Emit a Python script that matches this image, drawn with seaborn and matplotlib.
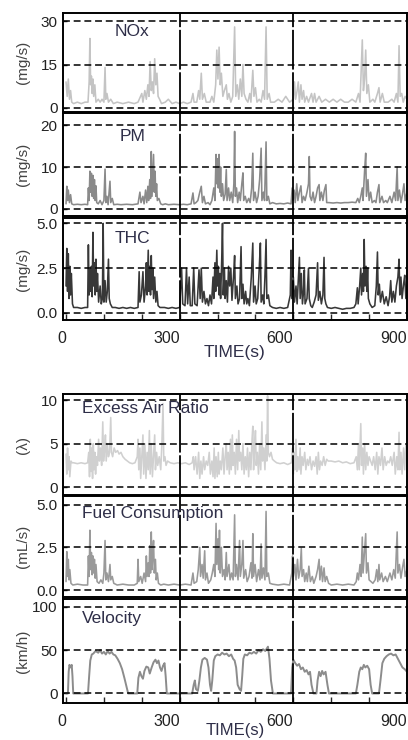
import numpy as np
import pandas as pd
import matplotlib
matplotlib.use("Agg")
import matplotlib.pyplot as plt
from matplotlib.ticker import MultipleLocator
import seaborn as sns

# ---------------- data ----------------
nox_t = [0, 3, 6, 9, 12, 15, 20, 30, 40, 50, 58, 61, 63, 65, 67, 69, 71, 73, 76, 79, 85, 90, 95, 100, 103, 105, 108, 112, 118, 125, 135, 150, 165, 180, 190, 200, 203, 208, 212, 216, 219, 222, 225, 228, 231, 234, 237, 240, 243, 247, 252, 262, 270, 280, 290, 300,
         310, 320, 330, 335, 338, 345, 350, 353, 357, 360, 365, 370, 380, 385, 390, 395, 398, 401, 404, 407, 410, 414, 418, 423, 426, 430, 435, 440, 445, 448, 452, 456, 460, 464, 467, 470, 475, 480, 485, 488, 493, 496, 500, 504, 510, 515, 520, 524, 528, 531, 536, 540, 550, 560, 570, 580, 590, 600,
         603, 606, 610, 613, 616, 620, 623, 627, 630, 635, 640, 648, 652, 656, 660, 668, 675, 685, 695, 705, 715, 725, 735, 745, 755, 765, 772, 776, 782, 785, 788, 791, 794, 798, 802, 810, 815, 822, 826, 829, 835, 840, 850, 860, 866, 872, 876, 879, 882, 886, 890, 895, 900]
nox_v = [9, 4, 10, 3, 6, 2, 1.5, 2, 1.5, 2, 2, 9, 24, 8, 11, 5, 10, 4, 8, 2, 3, 2, 3, 2, 14, 3, 5, 2, 3, 1.5, 2, 1.5, 2, 1.5, 2, 5, 2, 6, 3, 8, 4, 16, 6, 9, 5, 17, 8, 12, 4, 3, 1.5, 2, 3, 1.5, 2, 1.5,
         2, 1.5, 2, 5, 2, 2, 6, 3, 12, 3, 5, 2, 2, 4, 2, 8, 20, 10, 21, 8, 12, 4, 6, 8, 3, 5, 2, 4, 28, 4, 8, 3, 10, 4, 15, 5, 3, 2, 5, 2, 13, 4, 7, 2, 3, 2, 6, 3, 28, 3, 5, 2, 2, 3, 2, 4, 2, 3,
         9, 3, 6, 9, 2, 8, 3, 6, 2, 4, 2, 5, 2, 5, 2, 4, 2, 3, 2, 3, 2, 3, 2, 2, 3, 2, 5, 2, 23.5, 6, 10, 20, 5, 8, 2, 3, 2, 5, 7, 2, 5, 2, 2, 3, 2, 5, 2, 21.5, 4, 5, 2, 4, 3]

pm_t = [0, 2, 4, 6, 9, 12, 15, 20, 30, 40, 50, 57, 59, 61, 63, 65, 67, 69, 71, 73, 75, 77, 79, 81, 85, 90, 95, 100, 103, 105, 108, 111, 116, 118, 122, 126, 135, 145, 160, 175, 190, 195, 198, 203, 206, 210, 213, 216, 218, 221, 223, 225, 227, 229, 231, 233, 235, 237, 239, 241, 245, 250, 255, 262, 270, 285, 300,
        310, 320, 330, 335, 338, 343, 348, 353, 357, 360, 364, 368, 375, 380, 385, 390, 393, 396, 398, 400, 402, 404, 406, 408, 410, 413, 416, 420, 423, 425, 429, 432, 436, 440, 443, 445, 447, 450, 453, 457, 460, 464, 467, 469, 473, 477, 482, 486, 490, 493, 495, 499, 503, 507, 511, 515, 517, 521, 524, 528, 530, 534, 538, 545, 555, 565, 575, 585, 594,
        597, 599, 602, 605, 609, 612, 616, 620, 623, 627, 631, 636, 640, 642, 644, 648, 652, 656, 660, 664, 668, 670, 674, 678, 682, 686, 688, 694, 705, 715, 725, 735, 745, 755, 765, 770, 774, 778, 782, 784, 788, 791, 793, 797, 800, 804, 808, 814, 818, 822, 826, 828, 834, 838, 844, 848, 855, 860, 866, 870, 874, 876, 880, 884, 888, 892, 895, 900]
pm_v = [1.2, 5.4, 2.0, 4.5, 1.5, 3.4, 1.2, 1.0, 1.1, 1.0, 1.1, 1.0, 5.0, 2.0, 9.0, 4.0, 8.5, 3.0, 8.0, 2.5, 7.0, 2.0, 5.5, 1.5, 1.2, 2.0, 1.0, 2.0, 9.5, 1.5, 3.0, 1.0, 6.6, 1.5, 2.5, 1.0, 1.1, 1.0, 1.1, 1.0, 1.2, 4.0, 1.5, 3.0, 1.2, 4.5, 1.5, 5.4, 2.0, 7.0, 2.5, 13.7, 3.0, 8.0, 13.0, 4.0, 9.0, 3.0, 6.0, 2.0, 2.5, 1.2, 1.0, 1.2, 1.0, 1.1, 1.0,
        1.1, 1.0, 1.2, 3.8, 1.2, 1.5, 2.0, 4.0, 5.4, 1.5, 3.0, 1.2, 1.5, 1.0, 2.0, 5.0, 2.0, 13.0, 6.0, 12.0, 5.0, 13.0, 4.0, 10.0, 3.0, 6.0, 2.0, 3.5, 9.4, 2.0, 5.0, 2.0, 4.0, 1.5, 6.0, 18.5, 3.0, 5.0, 1.5, 4.0, 2.0, 6.0, 8.6, 2.0, 3.0, 1.5, 2.5, 1.5, 5.0, 13.3, 2.0, 4.0, 1.5, 3.0, 7.0, 14.5, 2.0, 4.0, 2.0, 16.0, 2.0, 3.0, 1.2, 1.5, 1.2, 1.3, 1.2, 1.4, 1.2,
        5.0, 2.0, 4.5, 1.5, 6.0, 2.0, 4.0, 5.5, 1.5, 3.0, 2.0, 4.0, 6.0, 12.5, 3.0, 2.0, 4.0, 1.5, 3.0, 5.0, 5.8, 2.0, 4.0, 2.0, 4.5, 5.8, 1.5, 1.5, 1.4, 1.5, 1.4, 1.5, 1.5, 1.6, 1.5, 2.5, 1.5, 3.0, 5.0, 2.0, 9.0, 13.3, 3.0, 7.0, 2.0, 4.0, 1.5, 2.0, 1.5, 4.0, 5.8, 1.5, 3.0, 1.5, 2.0, 1.5, 3.0, 1.5, 4.0, 2.0, 10.0, 2.0, 4.5, 1.5, 3.5, 6.0, 2.0, 4.0]

thc_t = [0, 2, 4, 6, 8, 10, 12, 14, 17, 20, 30, 40, 50, 57, 59, 61, 63, 65, 67, 69, 71, 73, 75, 77, 79, 81, 83, 86, 90, 93, 96, 98, 100, 103, 106, 109, 112, 114, 117, 122, 130, 140, 150, 160, 170, 180, 190, 193, 195, 199, 203, 206, 210, 212, 214, 217, 219, 221, 223, 225, 227, 229, 231, 234, 237, 240, 243, 248, 260, 270, 280, 290, 300,
         305, 308, 314, 318, 321, 325, 328, 333, 337, 340, 346, 351, 354, 357, 360, 364, 368, 372, 376, 380, 384, 388, 390, 393, 395, 398, 400, 402, 404, 406, 408, 411, 413, 415, 418, 420, 423, 426, 429, 432, 435, 438, 442, 445, 447, 451, 454, 458, 462, 464, 467, 470, 474, 477, 480, 484, 489, 493, 495, 499, 502, 506, 510, 513, 515, 519, 522, 525, 528, 530, 534, 538, 545, 555, 565, 575, 585,
         592, 594, 596, 600, 603, 607, 610, 614, 616, 618, 621, 624, 627, 629, 631, 636, 640, 642, 646, 650, 655, 660, 664, 666, 670, 674, 678, 681, 683, 686, 690, 700, 710, 720, 730, 740, 750, 760, 765, 769, 771, 775, 778, 780, 783, 785, 787, 789, 792, 794, 796, 798, 802, 808, 815, 819, 822, 824, 827, 830, 835, 840, 845, 850, 854, 857, 860, 864, 868, 872, 876, 879, 881, 884, 887, 891, 894, 897, 900]
thc_v = [1.5, 3.6, 1.2, 3.3, 0.8, 2.6, 1.0, 2.2, 0.5, 0.3, 0.3, 0.25, 0.3, 0.3, 3.8, 1.0, 2.4, 1.2, 2.6, 0.9, 4.5, 1.5, 2.8, 1.0, 3.0, 1.2, 2.2, 0.6, 1.5, 0.5, 0.8, 5.0, 0.6, 1.8, 0.6, 1.2, 3.0, 0.8, 0.5, 0.3, 0.3, 0.25, 0.3, 0.25, 0.3, 0.25, 0.3, 2.3, 0.6, 1.0, 2.3, 0.6, 1.5, 2.8, 1.0, 3.5, 1.2, 2.6, 1.0, 3.2, 1.3, 2.5, 0.8, 2.0, 0.6, 1.2, 0.4, 0.3, 0.3, 0.25, 0.3, 0.25, 0.3,
         2.5, 0.5, 0.4, 2.5, 0.5, 2.0, 0.4, 0.4, 2.5, 0.5, 0.4, 2.4, 0.8, 2.5, 0.6, 1.2, 0.5, 0.8, 0.4, 1.0, 0.5, 2.0, 0.8, 2.8, 1.2, 3.5, 1.5, 2.6, 1.0, 2.2, 0.8, 3.0, 5.0, 1.0, 2.5, 0.8, 1.8, 0.6, 2.6, 1.5, 2.5, 0.7, 2.0, 3.2, 0.8, 1.5, 0.5, 0.8, 3.7, 0.8, 1.6, 0.5, 1.2, 0.5, 0.8, 0.4, 2.0, 3.9, 0.6, 1.5, 0.5, 0.8, 2.5, 3.9, 0.6, 1.0, 0.5, 2.0, 4.1, 0.8, 1.0, 0.4, 0.3, 0.25, 0.3, 0.25, 0.3,
         1.0, 3.5, 0.8, 2.0, 0.6, 1.5, 0.5, 2.2, 3.1, 0.8, 2.2, 0.5, 1.2, 2.4, 0.5, 0.8, 2.5, 0.8, 0.4, 0.3, 0.6, 1.0, 2.8, 0.7, 1.2, 0.5, 1.0, 3.1, 0.8, 0.5, 0.3, 0.25, 0.3, 0.25, 0.2, 0.25, 0.25, 0.3, 0.5, 1.4, 0.5, 1.5, 2.5, 1.0, 2.2, 1.2, 4.1, 1.5, 2.6, 1.2, 2.5, 0.8, 0.5, 0.3, 0.4, 1.5, 3.4, 1.0, 1.6, 0.6, 1.2, 0.5, 0.9, 0.4, 0.9, 1.8, 0.6, 1.2, 0.6, 1.5, 2.0, 3.0, 1.0, 2.0, 0.8, 1.6, 2.1, 0.8, 1.5]

ear_t = [0, 2, 4, 6, 8, 10, 13, 16, 20, 30, 40, 50, 57, 60, 62, 64, 66, 68, 70, 72, 74, 76, 78, 80, 83, 86, 88, 91, 94, 97, 99, 102, 104, 106, 109, 112, 115, 118, 120, 123, 127, 131, 136, 140, 145, 150, 156, 162, 168, 175, 182, 188, 190, 192, 195, 197, 200, 203, 205, 208, 211, 214, 217, 220, 222, 225, 228, 231, 234, 236, 239, 242, 246, 250, 253, 256, 258, 261, 264, 268, 275, 285, 295,
         305, 315, 325, 333, 336, 338, 342, 346, 350, 353, 356, 359, 363, 366, 370, 374, 378, 381, 385, 388, 391, 393, 396, 399, 402, 404, 407, 410, 414, 417, 420, 423, 425, 428, 431, 434, 436, 439, 441, 444, 447, 450, 453, 456, 458, 461, 464, 467, 470, 473, 476, 479, 482, 485, 488, 491, 493, 495, 498, 500, 502, 505, 508, 511, 514, 517, 519, 522, 525, 528, 530, 532, 534, 537, 541, 545, 550, 556, 565, 575, 585, 595,
         598, 600, 602, 604, 607, 609, 612, 615, 618, 620, 623, 626, 630, 633, 637, 640, 644, 648, 652, 656, 660, 663, 666, 669, 672, 676, 680, 684, 688, 692, 700, 710, 720, 730, 740, 750, 760, 766, 769, 772, 774, 778, 780, 783, 785, 788, 791, 794, 797, 800, 804, 808, 812, 816, 820, 823, 826, 830, 834, 837, 841, 845, 849, 853, 857, 861, 866, 869, 873, 876, 879, 881, 884, 887, 891, 894, 897, 900]
ear_v = [3.8, 1.5, 4.5, 2.0, 3.5, 1.2, 3.0, 2.8, 2.8, 2.7, 2.8, 2.7, 2.8, 4.0, 1.2, 5.5, 1.8, 4.5, 1.0, 5.0, 2.0, 4.0, 1.5, 3.5, 2.5, 5.5, 3.0, 4.5, 2.5, 7.5, 3.0, 4.5, 6.0, 3.0, 5.0, 3.5, 4.0, 8.0, 4.0, 3.5, 4.5, 4.0, 4.2, 3.8, 4.0, 3.5, 3.2, 3.0, 2.8, 2.7, 2.8, 3.5, 5.5, 2.0, 4.5, 1.0, 3.5, 6.0, 1.5, 5.0, 1.0, 4.0, 2.0, 6.5, 1.5, 5.0, 1.2, 3.5, 6.0, 2.0, 4.0, 2.5, 3.5, 2.0, 5.0, 9.6, 3.0, 3.5, 2.5, 3.0, 2.8, 2.7, 2.8,
         2.7, 2.8, 2.6, 2.8, 3.5, 2.0, 3.5, 1.5, 4.0, 1.0, 3.0, 1.5, 3.5, 2.0, 3.0, 2.5, 4.0, 1.5, 3.0, 1.2, 4.5, 1.0, 3.5, 1.2, 4.0, 1.5, 3.0, 2.0, 4.5, 1.5, 3.5, 5.0, 2.0, 4.0, 1.5, 5.5, 2.0, 6.0, 2.5, 4.0, 1.5, 5.5, 2.0, 6.5, 3.0, 4.0, 2.0, 5.0, 1.5, 3.5, 2.0, 4.5, 1.2, 4.0, 2.0, 5.5, 7.0, 2.0, 5.0, 6.5, 2.5, 4.0, 1.5, 5.0, 2.0, 7.5, 3.0, 4.5, 2.0, 6.0, 3.0, 10.5, 4.0, 3.5, 4.0, 3.2, 3.0, 2.8, 2.7, 2.8, 2.6, 2.8,
         4.5, 1.5, 4.0, 2.0, 5.5, 1.8, 3.5, 2.0, 4.5, 1.5, 3.5, 2.5, 4.0, 2.0, 3.2, 2.5, 3.5, 2.0, 3.0, 2.4, 3.5, 1.5, 4.0, 2.0, 3.0, 2.5, 3.5, 2.5, 3.2, 3.0, 3.0, 2.9, 3.0, 2.8, 2.9, 2.7, 2.8, 3.5, 2.0, 5.0, 2.0, 7.3, 2.5, 4.5, 1.5, 5.0, 2.0, 4.0, 2.5, 3.5, 3.0, 2.5, 3.5, 2.0, 4.0, 1.5, 3.5, 2.5, 4.5, 2.0, 3.5, 2.5, 3.0, 2.8, 3.5, 2.5, 4.0, 1.5, 3.5, 2.0, 6.3, 2.0, 4.0, 1.5, 4.5, 2.0, 5.0, 3.0]

fuel_t = [0, 2, 4, 6, 8, 10, 13, 18, 30, 45, 57, 59, 61, 63, 65, 67, 69, 71, 73, 75, 77, 79, 82, 87, 92, 97, 100, 103, 105, 108, 112, 116, 118, 122, 126, 135, 150, 165, 180, 188, 190, 192, 197, 201, 206, 210, 212, 214, 217, 219, 221, 223, 225, 227, 229, 231, 233, 236, 238, 241, 244, 250, 258, 270, 285, 300,
          315, 330, 335, 338, 345, 349, 353, 355, 359, 362, 366, 368, 372, 376, 382, 386, 390, 393, 396, 398, 401, 403, 405, 407, 410, 413, 417, 420, 423, 425, 430, 433, 437, 441, 445, 447, 450, 454, 458, 460, 464, 467, 469, 474, 478, 483, 488, 491, 493, 495, 499, 503, 508, 512, 515, 517, 521, 525, 528, 530, 534, 538, 545, 560, 575, 590,
          596, 598, 600, 604, 607, 611, 614, 618, 621, 623, 627, 630, 634, 637, 641, 645, 650, 654, 660, 664, 668, 670, 674, 677, 681, 684, 688, 693, 700, 715, 730, 745, 760, 766, 769, 772, 776, 779, 782, 784, 787, 791, 793, 797, 800, 805, 810, 816, 820, 823, 826, 828, 833, 837, 843, 848, 855, 860, 865, 869, 874, 876, 880, 884, 888, 892, 895, 900]
fuel_v = [0.5, 2.25, 0.8, 1.8, 0.6, 1.2, 0.4, 0.3, 0.35, 0.3, 0.3, 2.0, 0.8, 3.5, 1.2, 2.2, 0.9, 2.0, 1.0, 1.8, 0.7, 1.5, 0.5, 0.4, 0.6, 0.4, 1.0, 2.9, 0.6, 1.0, 0.5, 1.5, 0.6, 0.8, 0.4, 0.3, 0.35, 0.3, 0.3, 0.4, 1.8, 0.5, 0.8, 0.4, 1.0, 0.5, 2.0, 0.8, 1.6, 0.8, 2.6, 1.0, 3.4, 1.2, 2.2, 2.9, 1.0, 1.8, 0.6, 1.0, 0.4, 0.3, 0.35, 0.3, 0.35, 0.3,
          0.35, 0.3, 1.0, 0.4, 0.5, 1.2, 2.5, 0.8, 1.5, 0.7, 2.3, 0.6, 1.0, 0.4, 0.6, 1.0, 1.5, 0.8, 3.9, 1.5, 3.0, 1.2, 3.5, 1.0, 2.5, 0.8, 1.2, 0.6, 2.2, 0.8, 1.5, 0.6, 1.0, 0.6, 4.4, 0.8, 1.5, 0.6, 2.9, 0.8, 1.5, 2.9, 0.7, 1.2, 0.5, 0.8, 1.6, 0.7, 3.3, 0.8, 1.5, 0.5, 1.2, 0.6, 2.7, 0.7, 1.3, 0.6, 4.6, 0.8, 1.0, 0.4, 0.35, 0.3, 0.35, 0.3,
          1.0, 2.0, 0.8, 1.5, 0.6, 1.8, 0.7, 1.2, 2.45, 0.8, 1.2, 0.5, 1.0, 0.5, 1.4, 0.5, 0.8, 0.4, 0.8, 1.2, 1.8, 0.6, 1.4, 0.5, 1.3, 0.5, 0.8, 0.4, 0.3, 0.35, 0.3, 0.35, 0.3, 0.5, 1.0, 0.6, 1.5, 0.8, 3.1, 1.0, 2.0, 3.3, 1.0, 1.6, 0.6, 0.5, 0.4, 0.6, 1.2, 0.5, 1.5, 0.6, 1.0, 0.5, 0.8, 0.5, 1.0, 0.6, 1.2, 0.7, 3.4, 1.0, 1.5, 0.7, 1.3, 1.8, 0.8, 1.2]

vel_t = [0, 5, 7, 9, 12, 15, 17, 19, 58, 61, 64, 68, 72, 78, 85, 90, 95, 100, 105, 110, 115, 120, 125, 130, 136, 142, 148, 154, 160, 164, 188, 191, 195, 199, 203, 207, 212, 217, 221, 226, 231, 236, 240, 244, 248, 252, 256, 260, 263, 266,
         333, 337, 340, 343, 348, 352, 356, 360, 366, 372, 376, 380, 383, 386, 390, 394, 400, 406, 412, 418, 424, 430, 436, 441, 445, 449, 453, 458, 462, 465, 468, 472, 478, 484, 490, 496, 502, 508, 514, 520, 526, 533, 537, 541, 546,
         594, 597, 600, 605, 610, 615, 620, 625, 630, 635, 640, 644, 648, 653, 661, 664, 668, 672, 676, 680, 685, 690, 694, 765, 769, 774, 778, 782, 786, 790, 795, 800, 804, 808, 826, 830, 835, 840, 846, 852, 858, 864, 870, 876, 882, 888, 894, 900]
vel_v = [0, 0, 25, 33, 30, 33, 20, 0, 0, 20, 38, 45, 46, 49, 47, 50, 46, 48, 45, 49, 46, 48, 45, 44, 40, 35, 28, 18, 7, 0, 0, 18, 25, 20, 17, 26, 31, 30, 23, 30, 36, 39, 35, 38, 30, 26, 32, 35, 20, 0,
         0, 10, 15, 5, 3, 15, 30, 39, 41, 39, 30, 10, 3, 15, 38, 43, 45, 44, 47, 45, 46, 43, 45, 40, 38, 30, 10, 5, 3, 20, 40, 45, 44, 47, 46, 48, 46, 50, 48, 51, 49, 54, 40, 15, 0,
         0, 30, 39, 35, 32, 34, 28, 30, 25, 27, 22, 25, 10, 0, 0, 15, 25, 20, 26, 22, 25, 10, 0, 0, 10, 25, 30, 28, 33, 30, 32, 28, 10, 0, 0, 15, 35, 40, 43, 45, 46, 44, 45, 40, 35, 30, 28, 25]

x_major = [0, 300, 600, 900]
x_tick_labels = ["0", "300", "600", "900"]

# ---------------- styling ----------------
sns.set_style("ticks")
plt.rcParams['font.family'] = ['Liberation Sans', 'DejaVu Sans']
TXT = "#222222"
TITLE_C = "#2e2e48"

W, H = 408, 740
fig = plt.figure(figsize=(W / 100, H / 100), dpi=100)

LEFT, RIGHT = 63, 407
panels = [
    ("NOx", nox_t, nox_v, 13, 112, (-1.4, 32.8), [0, 15, 30], ["0", "15", "30"], "(mg/s)", "NOx", (0.15, 0.81), "#c4c4c4", 1.15, False),
    ("PM", pm_t, pm_v, 113, 216, (-1.7, 22.9), [0, 10, 20], ["0", "10", "20"], "(mg/s)", "PM", (0.165, 0.77), "#8a8a8a", 1.15, False),
    ("THC", thc_t, thc_v, 218, 320, (-0.4, 5.3), [0, 2.5, 5.0], ["0.0", "2.5", "5.0"], "(mg/s)", "THC", (0.15, 0.80), "#383838", 1.15, True),
    ("EAR", ear_t, ear_v, 394, 495, (-0.9, 10.7), [0, 5, 10], ["0", "5", "10"], "(λ)", "Excess Air Ratio", (0.055, 0.86), "#d0d0d0", 1.15, False),
    ("Fuel", fuel_t, fuel_v, 496, 597, (-0.4, 5.5), [0, 2.5, 5.0], ["0.0", "2.5", "5.0"], "(mL/s)", "Fuel Consumption", (0.055, 0.83), "#9a9a9a", 1.15, False),
    ("Vel", vel_t, vel_v, 599, 703, (-11, 109), [0, 50, 100], ["0", "50", "100"], "(km/h)", "Velocity", (0.055, 0.81), "#8c8c8c", 1.4, True),
]

for name, t, v, top, bot, ylim, yt, ytl, ylab, title, (tx, ty), col, lw, xaxis in panels:
    ax = fig.add_axes([LEFT / W, 1 - bot / H, (RIGHT - LEFT) / W, (bot - top) / H])
    df = pd.DataFrame({"t": t, "v": v})
    sns.lineplot(data=df, x="t", y="v", ax=ax, color=col, lw=lw, estimator=None, sort=False)
    ax.set_xlim(-8, 900)
    ax.set_ylim(*ylim)
    for y in yt:
        ax.axhline(y, color="black", lw=1.1, ls=(0, (4.5, 2.5)), zorder=3)
    for xv in (300, 600):
        ax.axvline(xv, color="black", lw=1.3, ls=(0, (22, 1.5)), zorder=3)
    ax.set_yticks(yt)
    ax.set_yticklabels(ytl)
    ax.tick_params(axis="y", direction="in", length=3, width=1, pad=4, labelsize=11, colors=TXT)
    ax.set_xlabel("")
    ax.set_ylabel("")
    for s in ax.spines.values():
        s.set_color("black")
        s.set_linewidth(1.4)
        s.set_visible(True)
    if xaxis:
        ax.set_xticks(x_major)
        ax.set_xticklabels(x_tick_labels, ha="right")
        ax.xaxis.set_minor_locator(MultipleLocator(100))
        ax.tick_params(axis="x", which="major", direction="in", length=4, width=1, pad=8,
                       labelsize=11.5, colors=TXT)
        ax.tick_params(axis="x", which="minor", direction="in", length=4, width=1)
    else:
        ax.set_xticks([])
        ax.tick_params(axis="x", which="both", bottom=False, labelbottom=False)
    ax.text(tx, ty, title, transform=ax.transAxes, fontsize=12.5, color=TITLE_C,
            ha="left", va="center", zorder=5)
    fig.text(23 / W, 1 - ((top + bot) / 2) / H, ylab, rotation=90, ha="center", va="center",
             fontsize=11, color="#444444")

fig.text(235 / W, 1 - 352 / H, "TIME(s)", ha="center", va="center", fontsize=12.5, color=TITLE_C)
fig.text(235 / W, 1 - 738 / H, "TIME(s)", ha="center", va="bottom", fontsize=12, color=TITLE_C)

fig.savefig("out.png", dpi=100)
